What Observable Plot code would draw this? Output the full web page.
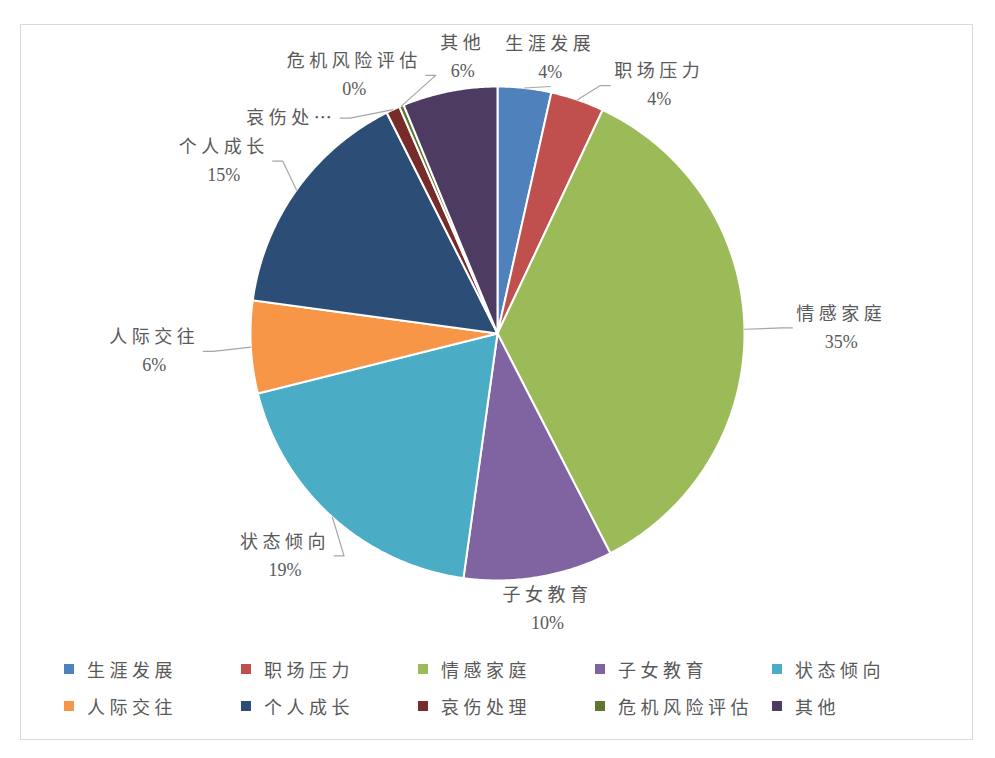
<!DOCTYPE html>
<html><head><meta charset="utf-8">
<script src="https://cdn.jsdelivr.net/npm/d3@7"></script>
<script src="https://cdn.jsdelivr.net/npm/@observablehq/plot@0.6"></script>
<style>
body{margin:0;background:#fff;width:995px;height:758px;position:relative;overflow:hidden;font-family:"Noto Sans CJK SC",sans-serif;}
#frame{position:absolute;left:20px;top:24px;width:953px;height:716px;border:1px solid #d9d9d9;box-sizing:border-box;}
#chart{position:absolute;left:0;top:0;}
#legend{position:absolute;left:64px;top:650px;display:grid;grid-template-columns:repeat(5,177px);grid-auto-rows:37px;color:#595959;font-size:18px;letter-spacing:4.5px;}
.item{display:flex;align-items:center;white-space:nowrap}
.sw{width:10px;height:10px;margin-right:13px;flex:none}
</style></head><body>
<div id="frame"></div><div id="chart"></div><div id="legend"></div>
<script>
const categories = ["生涯发展","职场压力","情感家庭","子女教育","状态倾向","人际交往","个人成长","哀伤处理","危机风险评估","其他"];
const values = [3.5, 3.5, 35.45, 9.75, 18.9, 6.05, 15.45, 0.9, 0.3, 6.2];
const colors = ["#4F81BD","#C0504D","#9BBB59","#8064A2","#4BACC6","#F79646","#2C4D75","#772C2A","#5F7530","#4D3B62"];
const labelNames = ["生涯发展","职场压力","情感家庭","子女教育","状态倾向","人际交往","个人成长","哀伤处…","危机风险评估","其他"];

const W = 995, H = 640, cx = 497, cy = 333, R = 247;
const FS = 18, LS = 4.5;
const rad = d => d * Math.PI / 180;
const total = d3.sum(values);
let acc = 0;
const slices = categories.map((c, i) => {
  const a0 = acc / total * 360; acc += values[i]; const a1 = acc / total * 360;
  return {cat: c, a0, a1, mid: (a0 + a1) / 2, pct: values[i] / total * 100, i};
});
const pts = [];
for (const s of slices) {
  pts.push({cat: s.cat, x: 0, y: 0});
  const n = Math.max(2, Math.ceil((s.a1 - s.a0) / 0.5));
  for (let k = 0; k <= n; k++) {
    const a = rad(s.a0 + (s.a1 - s.a0) * k / n);
    pts.push({cat: s.cat, x: Math.sin(a), y: Math.cos(a)});
  }
  pts.push({cat: s.cat, x: 0, y: 0});
}
// label layout (pixel units relative to centre, y up)
const ctx = document.createElement("canvas").getContext("2d");
function tw(str, font) { ctx.font = font; return ctx.measureText(str).width; }
const nameFont = `${FS}px "Noto Sans CJK SC"`, pctFont = `${FS}px "Liberation Serif"`;
const labels = slices.map((s, i) => {
  const name = labelNames[i];
  const showPct = !name.endsWith("…");
  const pct = Math.round(s.pct) + "%";
  const w = Math.max(tw(name, nameFont) + LS * [...name].length, showPct ? tw(pct, pctFont) : 0);
  const h = showPct ? 52 : 24;
  return {...s, name, pct, showPct, w, h, th: s.mid};
});
function place(l) {
  const t = rad(l.th), sn = Math.sin(t), cs = Math.cos(t);
  const r = R + R * (0.02 + 0.19 * sn * sn);
  return {x: r * sn + l.w / 2 * sn, y: r * cs + l.h / 2 * cs};
}
for (let it = 0; it < 800; it++) {
  let moved = false;
  const b = labels.map(l => { const p = place(l); return {x0: p.x - l.w/2 - 9, x1: p.x + l.w/2 + 9, y0: p.y - l.h/2 - 2, y1: p.y + l.h/2 + 2}; });
  for (let i = 0; i < labels.length; i++) for (let j = i + 1; j < labels.length; j++) {
    const A = b[i], B = b[j];
    if (A.x0 < B.x1 && B.x0 < A.x1 && A.y0 < B.y1 && B.y0 < A.y1) {
      const d = ((labels[j].th - labels[i].th) % 360 + 540) % 360 - 180;
      const sg = d >= 0 ? 1 : -1;
      labels[i].th -= 0.3 * sg; labels[j].th += 0.3 * sg; moved = true;
    }
  }
  if (!moved) break;
}
const leaders = [];
for (const l of labels) {
  const p = place(l); l.cx = p.x; l.cy = p.y;
  const t = rad(l.th), sn = Math.sin(t), cs = Math.cos(t);
  const sx = R * Math.sin(rad(l.mid)), sy = R * Math.cos(rad(l.mid));
  let pts2;
  if (sn > 0.35) pts2 = [[p.x - l.w/2 - 14, p.y], [p.x - l.w/2 - 4, p.y]];
  else if (sn < -0.35) pts2 = [[p.x + l.w/2 + 14, p.y], [p.x + l.w/2 + 4, p.y]];
  else if (cs > 0) pts2 = [[p.x, p.y - l.h/2 - 2]];
  else pts2 = [[p.x, p.y + l.h/2 + 2]];
  const e = pts2[pts2.length - 1];
  if (Math.hypot(e[0] - sx, e[1] - sy) > 24) {
    leaders.push({cat: l.cat, x: sx / R, y: sy / R});
    for (const q of pts2) leaders.push({cat: l.cat, x: q[0] / R, y: q[1] / R});
  }
}
const chart = Plot.plot({
  width: W, height: H, margin: 0,
  x: {domain: [-1, 1], range: [cx - R, cx + R], axis: null},
  y: {domain: [-1, 1], range: [cy + R, cy - R], axis: null},
  color: {domain: categories, range: colors},
  style: {background: "transparent", overflow: "visible"},
  marks: [
    Plot.line(pts, {x: "x", y: "y", z: "cat", fill: "cat", stroke: "white", strokeWidth: 2, strokeLinejoin: "round"}),
    Plot.line(leaders, {x: "x", y: "y", z: "cat", stroke: "#a6a6a6", strokeWidth: 1.2}),
    Plot.text(labels, {x: d => d.cx / R, y: d => (d.cy + (d.showPct ? 14 : 0)) / R, text: "name", fill: "#595959", fontSize: FS, fontFamily: '"Noto Sans CJK SC", sans-serif'}),
    Plot.text(labels.filter(d => d.showPct), {x: d => d.cx / R, y: d => (d.cy - 14) / R, text: "pct", fill: "#595959", fontSize: FS, fontFamily: '"Liberation Serif", serif'})
  ]
});
const tg = chart.querySelectorAll('g[aria-label="text"]');
if (tg.length) tg[0].style.letterSpacing = LS + "px";
document.getElementById("chart").appendChild(chart);
const lg = d3.select("#legend");
categories.forEach((c, i) => {
  const it = lg.append("div").attr("class", "item");
  it.append("span").attr("class", "sw").style("background", colors[i]);
  it.append("span").text(c);
});
</script></body></html>
